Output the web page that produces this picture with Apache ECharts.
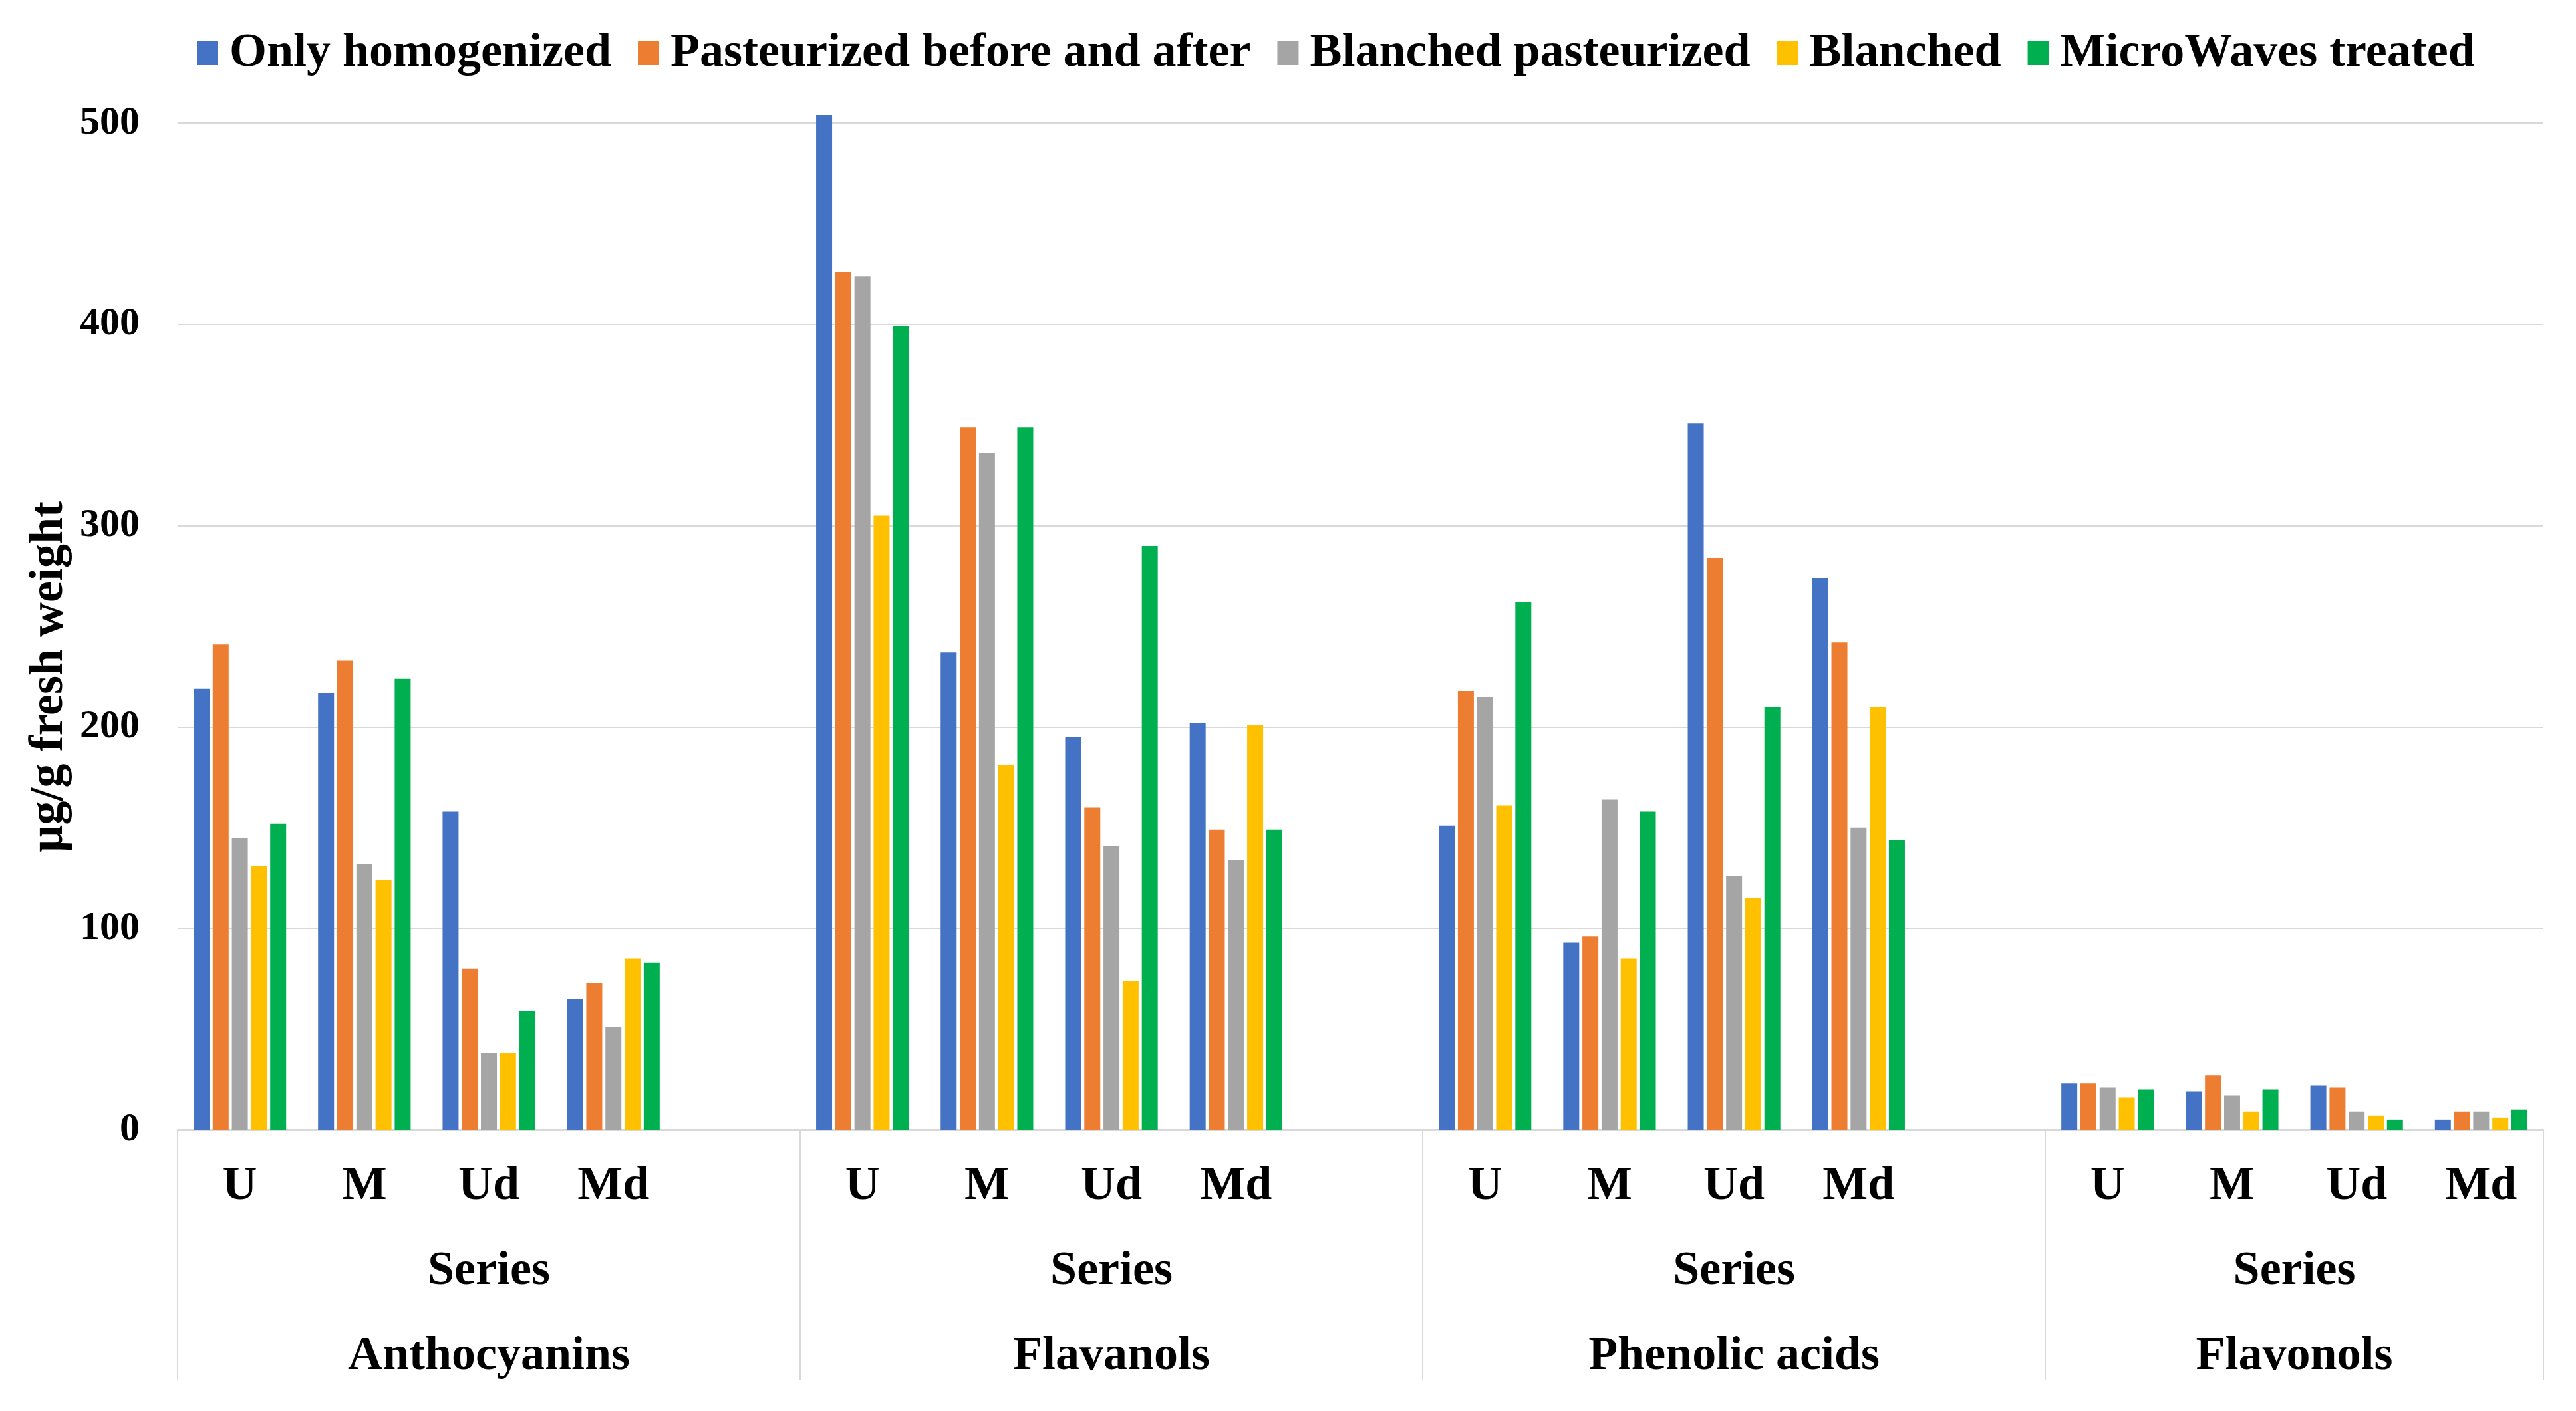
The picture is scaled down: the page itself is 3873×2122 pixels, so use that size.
<!DOCTYPE html>
<html><head><meta charset="utf-8">
<script src="https://cdn.jsdelivr.net/npm/echarts@6/dist/echarts.min.js"></script>
<style>html,body{margin:0;padding:0;background:#fff}#c{width:3873px;height:2122px}</style>
</head><body><div id="c"></div>
<script>
// ---- data ----
const groups = ['Anthocyanins', 'Flavanols', 'Phenolic acids', 'Flavonols'];
const subCategories = ['U', 'M', 'Ud', 'Md'];
const rowLabel = 'Series';
const seriesNames = ['Only homogenized', 'Pasteurized before and after', 'Blanched pasteurized', 'Blanched', 'MicroWaves treated'];
// values ordered group by group: U, M, Ud, Md
const onlyHomogenized       = [219, 217, 158, 65,  504, 237, 195, 202,  151, 93, 351, 274,  23, 19, 22, 5];
const pasteurizedBeforeAfter = [241, 233, 80, 73,  426, 349, 160, 149,  218, 96, 284, 242,  23, 27, 21, 9];
const blanchedPasteurized   = [145, 132, 38, 51,  424, 336, 141, 134,  215, 164, 126, 150,  21, 17, 9, 9];
const blanchedOnly          = [131, 124, 38, 85,  305, 181, 74, 201,  161, 85, 115, 210,  16, 9, 7, 6];
const microWavesTreated     = [152, 224, 59, 83,  399, 349, 290, 149,  262, 158, 210, 144,  20, 20, 5, 10];
const yTickValues = [0, 100, 200, 300, 400, 500];
const yAxisTitle = 'µg/g fresh weight';

// ---- build axis categories (blank slot between groups) ----
const categories = [];
const groupSizes = [];
groups.forEach((g, gi) => {
  subCategories.forEach(s => categories.push(s));
  let size = subCategories.length;
  if (gi < groups.length - 1) { categories.push(''); size += 1; }
  groupSizes.push(size);
});
const total = categories.length;
const groupCenters = [];
let acc = 0;
groupSizes.forEach(s => { groupCenters.push(acc + s / 2); acc += s; });

function expand(vals) {
  const out = [];
  groups.forEach((g, gi) => {
    subCategories.forEach((s, si) => out.push(vals[gi * subCategories.length + si]));
    if (gi < groups.length - 1) out.push(null);
  });
  return out;
}
const seriesValues = [onlyHomogenized, pasteurizedBeforeAfter, blanchedPasteurized, blanchedOnly, microWavesTreated];
const colors = ['#4472C4', '#ED7D31', '#A5A5A5', '#FFC000', '#00B050'];

const FONT = 'Liberation Serif';
const gridTop = 185, gridBottom = 423, gridLeft = 267, gridRight = 49;

function centerLabel(list) {
  return function (v) {
    for (let i = 0; i < groupCenters.length; i++) {
      if (Math.abs(v - groupCenters[i]) < 1e-6) return list[i];
    }
    return '';
  };
}

const chart = echarts.init(document.getElementById('c'), null, {renderer: 'canvas'});
chart.setOption({
  animation: false,
  backgroundColor: '#fff',
  color: colors,
  legend: {
    left: 291, top: 39,
    icon: 'rect', itemWidth: 32, itemHeight: 36, itemGap: 40,
    textStyle: {fontFamily: FONT, fontWeight: 'bold', fontSize: 72, color: '#000', padding: [0, 0, 0, 12]},
    data: seriesNames
  },
  grid: {left: gridLeft, right: gridRight, top: gridTop, bottom: gridBottom},
  xAxis: [
    {
      type: 'category', data: categories,
      axisLine: {show: true, lineStyle: {color: '#D9D9D9', width: 3}},
      axisTick: {show: false},
      axisLabel: {interval: 0, margin: 49, fontFamily: FONT, fontWeight: 'bold', fontSize: 72, color: '#000'}
    },
    {
      type: 'value', min: 0, max: total, interval: 5, position: 'bottom',
      axisLine: {show: false},
      axisTick: {show: true, length: 376, inside: false, lineStyle: {color: '#D9D9D9', width: 2}},
      axisLabel: {show: false}, splitLine: {show: false}
    },
    {
      type: 'value', min: 0, max: total, interval: 0.5, position: 'bottom',
      axisLine: {show: false}, axisTick: {show: false}, splitLine: {show: false},
      axisLabel: {margin: 177, fontFamily: FONT, fontWeight: 'bold', fontSize: 72, color: '#000',
        formatter: centerLabel(groups.map(() => rowLabel))}
    },
    {
      type: 'value', min: 0, max: total, interval: 0.5, position: 'bottom',
      axisLine: {show: false}, axisTick: {show: false}, splitLine: {show: false},
      axisLabel: {margin: 305, fontFamily: FONT, fontWeight: 'bold', fontSize: 72, color: '#000',
        formatter: centerLabel(groups)}
    }
  ],
  yAxis: {
    type: 'value', min: yTickValues[0], max: yTickValues[yTickValues.length - 1],
    interval: yTickValues[1] - yTickValues[0],
    axisLine: {show: false}, axisTick: {show: false},
    splitLine: {lineStyle: {color: '#D9D9D9', width: 2}},
    axisLabel: {margin: 57, fontFamily: FONT, fontWeight: 'bold', fontSize: 60, color: '#000'}
  },
  graphic: [{
    type: 'text', x: 74, y: 1018, rotation: Math.PI / 2,
    style: {text: yAxisTitle, fontFamily: FONT, fontWeight: 'bold', fontSize: 72, fill: '#000',
      align: 'center', verticalAlign: 'middle'}
  }],
  series: seriesNames.map((name, i) => ({
    name: name, type: 'bar', xAxisIndex: 0, clip: false,
    barWidth: 24, barGap: '20%',
    data: expand(seriesValues[i])
  }))
});
</script></body></html>
